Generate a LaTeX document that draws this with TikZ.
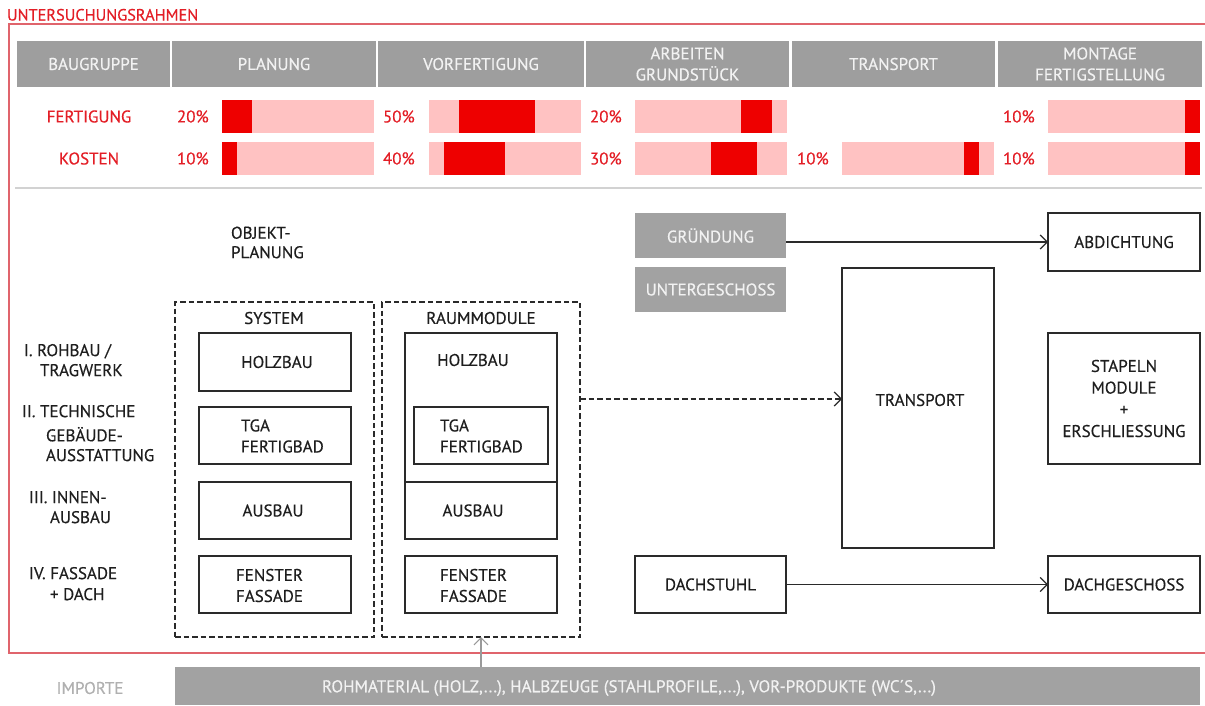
\documentclass[tikz,border=0pt]{standalone}
\usepackage{fontspec}
\setmainfont{PT Sans}[FakeBold=0.4]
\usetikzlibrary{arrows.meta}
\definecolor{hgray}{HTML}{9E9E9E}
\definecolor{htext}{HTML}{F2F2F2}
\definecolor{rtext}{HTML}{E31E26}
\definecolor{barlight}{HTML}{FFC2C2}
\definecolor{barred}{HTML}{EE0000}
\definecolor{framec}{HTML}{E0646C}
\definecolor{sepc}{HTML}{D2D2D2}
\definecolor{boxc}{HTML}{2A2A2A}
\definecolor{tcol}{HTML}{1E1E1E}
\definecolor{ggray}{HTML}{A2A2A2}
\definecolor{imptxt}{HTML}{B0B0B0}
\definecolor{imparr}{HTML}{9A9A9A}
\tikzset{
  base/.style={inner sep=0pt, outer sep=0pt},
  hcell/.style={base, fill=hgray, text=htext, minimum height=46pt, align=center},
  redlbl/.style={base, text=rtext},
  pct/.style={base, text=rtext, anchor=west},
  boxn/.style={base, draw=boxc, line width=1.2pt, text=tcol},
  gbox/.style={base, fill=ggray, text=htext},
  dbox/.style={base, draw=boxc, line width=1.2pt, dash pattern=on 5.5pt off 3pt},
  txt/.style={base, text=tcol, align=left},
  ctxt/.style={base, text=tcol, align=center},
  arr/.style={draw=boxc, line width=1.2pt, -{Straight Barb[length=7pt,width=14pt,line width=1.2pt]}},
}
\begin{document}
\begin{tikzpicture}[x=1pt,y=-1pt, font=\fontsize{17}{21}\selectfont]
\useasboundingbox (0,0) rectangle (1205,705);
% frame
\draw[framec, line width=1.5pt] (1206,24) -- (9,24) -- (9,653) -- (1206,653);
\node[base, text=rtext, anchor=base west, font=\fontsize{16.3}{18}\selectfont] (title) at (7,20.5) {UNTERSUCHUNGSRAHMEN};
% header
\node[hcell, minimum width=153pt] (h1) at (93.5,64) {BAUGRUPPE};
\node[hcell, minimum width=204pt] (h2) at (274,64) {PLANUNG};
\node[hcell, minimum width=206pt] (h3) at (481,64) {VORFERTIGUNG};
\node[hcell, minimum width=203pt] (h4) at (687.5,64) {ARBEITEN\\GRUNDSTÜCK};
\node[hcell, minimum width=203pt] (h5) at (893.5,64) {TRANSPORT};
\node[hcell, minimum width=204pt] (h6) at (1100,64) {MONTAGE\\FERTIGSTELLUNG};
% row labels
\node[redlbl] (rf) at (89,116.5) {FERTIGUNG};
\node[redlbl] (rk) at (89,158.5) {KOSTEN};
% bars
\foreach \x/\a/\b in {222/0/0.2, 429/0.2/0.7, 635/0.7/0.9, 1048/0.9/1}{
  \fill[barlight] (\x,100) rectangle ++(152,33);
  \fill[barred] (\x+152*\a,100) rectangle (\x+152*\b,133);
}
\foreach \x/\a/\b in {222/0/0.1, 429/0.1/0.5, 635/0.5/0.8, 842/0.8/0.9, 1048/0.9/1}{
  \fill[barlight] (\x,142) rectangle ++(152,33);
  \fill[barred] (\x+152*\a,142) rectangle (\x+152*\b,175);
}
\node[pct] (pf1) at (177,116.5) {20\%};
\node[pct] (pf2) at (383,116.5) {50\%};
\node[pct] (pf3) at (590,116.5) {20\%};
\node[pct] (pf5) at (1003,116.5) {10\%};
\node[pct] (pk1) at (177,158.5) {10\%};
\node[pct] (pk2) at (383,158.5) {40\%};
\node[pct] (pk3) at (590,158.5) {30\%};
\node[pct] (pk4) at (797,158.5) {10\%};
\node[pct] (pk5) at (1003,158.5) {10\%};
\draw[sepc, line width=2pt] (15,188) -- (1202,188);
% objektplanung
\node[txt, anchor=west, font=\fontsize{17}{19.5}\selectfont] (obj) at (231,242.5) {OBJEKT-\\PLANUNG};
% left labels
\node[txt, anchor=north west] (l1a) at (24,344) {I. ROHBAU /};
\node[txt, anchor=north west] (l1b) at (40,364) {TRAGWERK};
\node[txt, anchor=north west] (l2a) at (22,405) {II. TECHNISCHE};
\node[txt, anchor=north west] (l2b) at (46,427) {GEBÄUDE-};
\node[txt, anchor=north west] (l2c) at (46,449) {AUSSTATTUNG};
\node[txt, anchor=north west] (l3a) at (29,491) {III. INNEN-};
\node[txt, anchor=north west] (l3b) at (50,511) {AUSBAU};
\node[txt, anchor=north west] (l4a) at (29,567) {IV. FASSADE};
\node[txt, anchor=north west] (l4b) at (50,588) {+ DACH};
% dashed groups
\node[dbox, minimum width=199pt, minimum height=335pt] (dsys) at (274.5,469.5) {};
\node[dbox, minimum width=198pt, minimum height=335pt] (draum) at (481,469.5) {};
\node[ctxt] (tsys) at (274,318) {SYSTEM};
\node[ctxt] (traum) at (481,318) {RAUMMODULE};
% system column
\node[boxn, minimum width=152pt, minimum height=58pt] (s1) at (275,362) {};
\node[boxn, minimum width=152pt, minimum height=57pt] (s2) at (275,435.5) {};
\node[boxn, minimum width=152pt, minimum height=57pt] (s3) at (275,510.5) {};
\node[boxn, minimum width=152pt, minimum height=57pt] (s4) at (275,584.5) {};
\node[ctxt] (s1t) at (277,362) {HOLZBAU};
\node[txt, anchor=west] (s2t) at (241,436) {TGA\\FERTIGBAD};
\node[ctxt] (s3t) at (273,510.5) {AUSBAU};
\node[txt, anchor=west] (s4t) at (236,585.5) {FENSTER\\FASSADE};
% raummodule column
\node[boxn, minimum width=152pt, minimum height=149pt] (r1) at (481,407.5) {};
\node[boxn, minimum width=134pt, minimum height=57pt] (r2) at (481,435.5) {};
\node[boxn, minimum width=152pt, minimum height=57pt] (r3) at (481,510.5) {};
\node[boxn, minimum width=152pt, minimum height=57pt] (r4) at (481,584.5) {};
\node[ctxt] (r1t) at (473,360) {HOLZBAU};
\node[txt, anchor=west] (r2t) at (440,436) {TGA\\FERTIGBAD};
\node[ctxt] (r3t) at (473,510.5) {AUSBAU};
\node[txt, anchor=west] (r4t) at (440,585.5) {FENSTER\\FASSADE};
% right side
\node[gbox, minimum width=151pt, minimum height=45pt] (gru) at (710.5,235.5) {GRÜNDUNG};
\node[gbox, minimum width=151pt, minimum height=45pt] (ug) at (710.5,289.5) {UNTERGESCHOSS};
\node[boxn, minimum width=152pt, minimum height=58pt] (abd) at (1124,242) {ABDICHTUNG};
\node[boxn, minimum width=152pt, minimum height=280pt] (trans) at (918,408) {};
\node[ctxt] (transt) at (920,400) {TRANSPORT};
\node[boxn, minimum width=152pt, minimum height=131pt, align=center, font=\fontsize{17}{21.7}\selectfont] (stap) at (1124,398.5) {STAPELN\\MODULE\\+\\ERSCHLIESSUNG};
\node[boxn, minimum width=151pt, minimum height=57pt] (dst) at (710.5,584.5) {DACHSTUHL};
\node[boxn, minimum width=152pt, minimum height=57pt] (dgs) at (1124,584.5) {DACHGESCHOSS};
\coordinate (ya) at (0,399);
\draw[arr] (gru.east |- abd.west) -- (abd.west);
\draw[arr] (dst.east) -- (dgs.west);
\draw[arr, dash pattern=on 5.5pt off 3pt] (draum.east |- ya) -- (trans.west |- ya);
% bottom
\node[base, text=imptxt] (imp) at (90,688) {IMPORTE};
\node[base, fill=ggray, minimum width=1025pt, minimum height=38pt] (bar) at (687.5,686) {};
\node[base, text=htext] (bart) at (629,688) {ROHMATERIAL (HOLZ,...), HALBZEUGE (STAHLPROFILE,...), VOR-PRODUKTE (WC´S,...)};
\draw[draw=imparr, line width=1.2pt, -{Straight Barb[length=7pt,width=14pt,line width=1.2pt]}] (bar.north -| draum.south) -- (draum.south);
\end{tikzpicture}
\end{document}
